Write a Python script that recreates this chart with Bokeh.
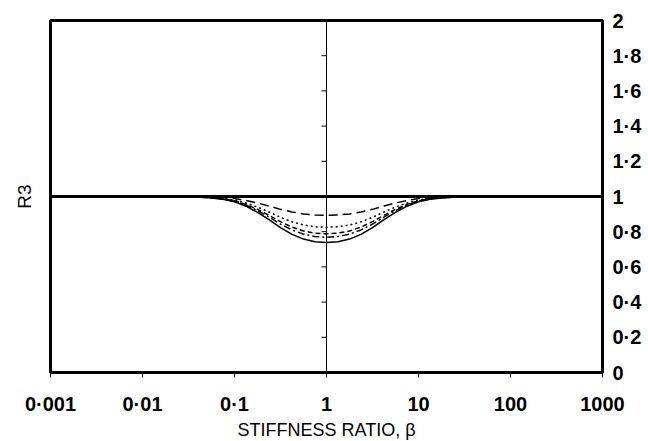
import numpy as np
from bokeh.plotting import figure
from bokeh.models import FixedTicker, LinearAxis, Span
from bokeh.embed import file_html
from bokeh.resources import INLINE

# log10 of stiffness ratio beta
log_beta = [-3, -1.75, -1.625, -1.5, -1.375, -1.25, -1.125, -1.0, -0.875, -0.75,
            -0.625, -0.5, -0.375, -0.25, -0.125, 0.0, 0.125, 0.25, 0.375, 0.5,
            0.625, 0.75, 0.875, 1.0, 1.125, 1.25, 1.375, 1.5, 1.625, 1.75, 3]

r3_solid = [1.0, 1.0, 0.999, 0.998, 0.996, 0.992, 0.984, 0.970, 0.945, 0.910,
            0.868, 0.823, 0.785, 0.758, 0.743, 0.738, 0.743, 0.758, 0.785, 0.823,
            0.868, 0.910, 0.945, 0.970, 0.984, 0.992, 0.996, 0.998, 0.999, 1.0, 1.0]
r3_dashdot = [1.0, 1.0, 0.999, 0.998, 0.996, 0.993, 0.986, 0.973, 0.951, 0.920,
              0.883, 0.843, 0.810, 0.786, 0.773, 0.768, 0.773, 0.786, 0.810, 0.843,
              0.883, 0.920, 0.951, 0.973, 0.986, 0.993, 0.996, 0.998, 0.999, 1.0, 1.0]
r3_shortdash = [1.0, 1.0, 0.999, 0.998, 0.997, 0.994, 0.987, 0.976, 0.955, 0.927,
                0.893, 0.857, 0.826, 0.804, 0.792, 0.788, 0.792, 0.804, 0.826, 0.857,
                0.893, 0.927, 0.955, 0.976, 0.987, 0.994, 0.997, 0.998, 0.999, 1.0, 1.0]
r3_dotted = [1.0, 1.0, 0.999, 0.999, 0.997, 0.995, 0.989, 0.980, 0.963, 0.940,
             0.912, 0.882, 0.856, 0.838, 0.828, 0.825, 0.828, 0.838, 0.856, 0.882,
             0.912, 0.940, 0.963, 0.980, 0.989, 0.995, 0.997, 0.999, 0.999, 1.0, 1.0]
r3_dash = [1.0, 1.0, 1.0, 0.999, 0.998, 0.997, 0.993, 0.988, 0.977, 0.963,
           0.946, 0.927, 0.912, 0.901, 0.895, 0.893, 0.895, 0.901, 0.912, 0.927,
           0.946, 0.963, 0.977, 0.988, 0.993, 0.997, 0.998, 0.999, 1.0, 1.0, 1.0]

x_ticks = [0.001, 0.01, 0.1, 1, 10, 100, 1000]
x_tick_labels = ["0·001", "0·01", "0·1", "1", "10", "100", "1000"]
y_ticks = [0, 0.2, 0.4, 0.6, 0.8, 1, 1.2, 1.4, 1.6, 1.8, 2]
y_tick_labels = ["0", "0·2", "0·4", "0·6", "0·8", "1", "1·2", "1·4", "1·6", "1·8", "2"]

beta = [10 ** v for v in log_beta]

FONT = "Liberation Sans"

p = figure(x_axis_type="log", x_range=(0.001, 1000), y_range=(0, 2),
           frame_width=552, frame_height=352,
           min_border_left=50, min_border_right=46, min_border_top=20, min_border_bottom=69,
           output_backend="svg", toolbar_location=None)
p.background_fill_color = "white"
p.border_fill_color = "white"
p.xgrid.visible = False
p.ygrid.visible = False
p.outline_line_color = "black"
p.outline_line_width = 3
p.outline_line_alpha = 1

# left axis: title only
la = p.left[0]
la.ticker = FixedTicker(ticks=[])
la.major_label_text_font_size = "0px"
la.major_tick_out = 0
la.major_tick_in = 0
la.minor_tick_out = 0
la.minor_tick_in = 0
la.axis_line_color = None
la.axis_label = "R3"
la.axis_label_text_font = FONT
la.axis_label_text_font_style = "normal"
la.axis_label_text_font_size = "19px"
la.axis_label_text_color = "black"
la.axis_label_standoff = 16
la.major_label_standoff = 0

# right axis with tick labels
ra = LinearAxis(ticker=FixedTicker(ticks=y_ticks, minor_ticks=[]))
ra.major_label_overrides = {t: l for t, l in zip(y_ticks, y_tick_labels)}
ra.major_tick_out = 0
ra.major_tick_in = 0
ra.minor_tick_out = 0
ra.minor_tick_in = 0
ra.axis_line_color = None
ra.major_label_standoff = 10
ra.major_label_text_font = FONT
ra.major_label_text_font_style = "bold"
ra.major_label_text_font_size = "20px"
ra.major_label_text_color = "black"
p.add_layout(ra, "right")

# bottom axis
xa = p.below[0]
xa.ticker = FixedTicker(ticks=x_ticks, minor_ticks=[])
xa.major_label_overrides = {t: l for t, l in zip(x_ticks, x_tick_labels)}
xa.major_tick_out = 5
xa.major_tick_in = 0
xa.major_tick_line_width = 1
xa.minor_tick_out = 0
xa.minor_tick_in = 0
xa.axis_line_color = None
xa.major_label_standoff = 15
xa.major_label_text_font = FONT
xa.major_label_text_font_style = "bold"
xa.major_label_text_font_size = "20px"
xa.major_label_text_color = "black"
xa.axis_label = "STIFFNESS RATIO, β"
xa.axis_label_text_font = FONT
xa.axis_label_text_font_style = "normal"
xa.axis_label_text_font_size = "18px"
xa.axis_label_text_color = "black"
xa.axis_label_standoff = 2

# centre vertical axis line at beta = 1 with small ticks
p.add_layout(Span(location=1, dimension="height", line_color="black", line_width=1))
p.ray(x=[1] * len(y_ticks), y=y_ticks, length=5, length_units="screen",
      angle=np.pi, line_color="black", line_width=1)

# curves
p.line(beta, r3_dash, line_color="black", line_width=1.5, line_dash="9 5")
p.line(beta, r3_dotted, line_color="black", line_width=1.5, line_dash="2 3")
p.line(beta, r3_shortdash, line_color="black", line_width=1.5, line_dash="5 3")
p.line(beta, r3_dashdot, line_color="black", line_width=1.5, line_dash="7 3 2 3")
p.line(beta, r3_solid, line_color="black", line_width=1.5)

# R3 = 1 reference line
p.add_layout(Span(location=1, dimension="width", line_color="black", line_width=3))

open("out.html", "w").write(file_html(p, INLINE))
